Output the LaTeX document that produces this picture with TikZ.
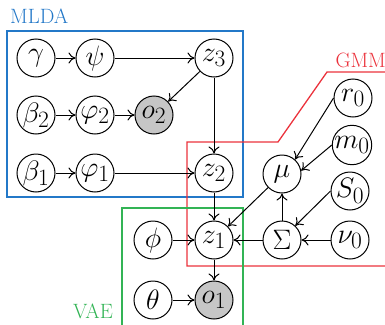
\RequirePackage{fix-cm}
\documentclass[tikz,border=0pt]{standalone}
\usepackage{graphicx}
\usetikzlibrary{arrows.meta}
\definecolor{mldablue}{RGB}{35,120,200}
\definecolor{gmmred}{RGB}{235,50,60}
\definecolor{vaegreen}{RGB}{50,180,85}
\definecolor{obsgray}{RGB}{198,198,198}
\newcommand{\vtxt}[1]{\scalebox{1.13}{$#1$}}
\newcommand{\ltxt}[1]{\scalebox{1.2}{#1}}
\tikzset{
  var/.style={circle,draw=black,line width=1pt,minimum size=38pt,inner sep=0pt,
    font=\Huge},
  obs/.style={var,fill=obsgray},
  conn/.style={line width=1pt,-{Computer Modern Rightarrow[length=7pt,width=11pt,line width=1pt]}},
  plate/.style={line width=1.3pt},
  platelabel/.style={font=\LARGE,inner sep=0pt},
}
\begin{document}
\begin{tikzpicture}[x=1pt,y=-1pt]
\useasboundingbox (0,0) rectangle (385,324);
% plates
\draw[plate,draw=mldablue] (7,31) rectangle (243,197);
\draw[plate,draw=gmmred] (386,72) -- (327,72) -- (278,142) -- (187,142) -- (187,266) -- (386,266);
\draw[plate,draw=vaegreen] (122,326) -- (122,208) -- (243,208) -- (243,326);
\node[platelabel,text=mldablue,anchor=base west] (lmlda) at (10,23) {\ltxt{MLDA}};
\node[platelabel,text=gmmred,anchor=base east] (lgmm) at (386,67) {\ltxt{GMM}};
\node[platelabel,text=vaegreen,anchor=base west] (lvae) at (73,318) {\ltxt{VAE}};
% nodes
\node[var] (gamma) at (36,58) {\vtxt{\gamma}};
\node[var] (psi) at (95,58) {\vtxt{\psi}};
\node[var] (z3) at (214,58) {\vtxt{z_3}};
\node[var] (beta2) at (36,115) {\vtxt{\beta_2}};
\node[var] (vphi2) at (95,115) {\vtxt{\varphi_2}};
\node[obs] (o2) at (154,115) {\vtxt{o_2}};
\node[var] (beta1) at (36,173) {\vtxt{\beta_1}};
\node[var] (vphi1) at (95,173) {\vtxt{\varphi_1}};
\node[var] (z2) at (214,173) {\vtxt{z_2}};
\node[var] (mu) at (282,174) {\vtxt{\mu}};
\node[var] (r0) at (353,98) {\vtxt{r_0}};
\node[var] (m0) at (352,145) {\vtxt{m_0}};
\node[var] (S0) at (350,191) {\vtxt{S_0}};
\node[var] (nu0) at (350,240) {\vtxt{\nu_0}};
\node[var] (Sigma) at (282,240) {\vtxt{\Sigma}};
\node[var] (z1) at (214,240) {\vtxt{z_1}};
\node[var] (phi) at (153,240) {\vtxt{\phi}};
\node[var] (theta) at (153,300) {\vtxt{\theta}};
\node[obs] (o1) at (214,300) {\vtxt{o_1}};
% edges
\draw[conn] (gamma) -- (psi);
\draw[conn] (psi) -- (z3);
\draw[conn] (z3) -- (o2);
\draw[conn] (beta2) -- (vphi2);
\draw[conn] (vphi2) -- (o2);
\draw[conn] (beta1) -- (vphi1);
\draw[conn] (vphi1) -- (z2);
\draw[conn] (z3) -- (z2);
\draw[conn] (z2) -- (z1);
\draw[conn] (mu) -- (z1);
\draw[conn] (Sigma) -- (z1);
\draw[conn] (Sigma) -- (mu);
\draw[conn] (r0.west) -- (mu.48);
\draw[conn] (m0.west) -- (mu.10);
\draw[conn] (S0.west) -- (Sigma.47);
\draw[conn] (nu0) -- (Sigma);
\draw[conn] (phi) -- (z1);
\draw[conn] (theta) -- (o1);
\draw[conn] (z1) -- (o1);
\end{tikzpicture}
\end{document}
